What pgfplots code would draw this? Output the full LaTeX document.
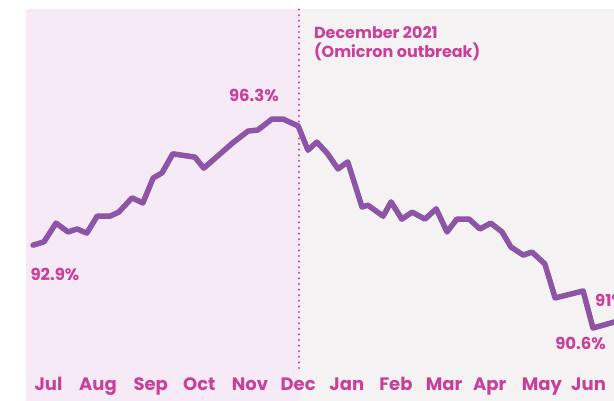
\documentclass[border=0pt]{standalone}
\usepackage{fontspec}
\setmainfont{Poppins}
\usepackage{pgfplots}
\pgfplotsset{compat=1.18}

\definecolor{pinkbg}{HTML}{F5EAF5}
\definecolor{graybg}{HTML}{F4F2F2}
\definecolor{linepurple}{HTML}{8E54A6}
\definecolor{textpink}{HTML}{C8409A}
\definecolor{dotpink}{HTML}{D6409F}

\begin{document}
\begin{tikzpicture}
\useasboundingbox (0,0) rectangle (614pt,401pt);
\begin{axis}[
    at={(26pt,0pt)}, anchor=south west,
    width=588pt, height=392pt, scale only axis,
    xmin=-0.458, xmax=11.508,
    ymin=88.61, ymax=99.30,
    axis line style={draw=none},
    axis on top,
    clip=true,
    ytick=\empty,
    xtick={0,1.007,2.08,3.07,4.10,5.08,6.07,7.07,8.05,8.98,10.04,10.99},
    xticklabels={Jul,Aug,Sep,Oct,Nov,Dec,Jan,Feb,Mar,Apr,May,Jun},
    major tick length=0pt,
    xtick style={draw=none},
    xticklabel style={anchor=base, yshift=10pt, text=textpink,
        font=\fontsize{18}{20}\selectfont\bfseries},
]
% backgrounds: before / after December 2021
\fill[pinkbg] (rel axis cs:0,0) rectangle (axis cs:5.098,99.30);
\fill[graybg] (axis cs:5.098,88.61) rectangle (rel axis cs:1,1);

% Omicron marker
\draw[dotpink, line width=2.3pt, line cap=round, dash pattern=on 0pt off 5.6pt]
    (axis cs:5.098,89.51) -- (axis cs:5.098,99.30);

% weekly share
\addplot[linepurple, line width=5.5pt, line join=round, line cap=round]
coordinates {
  (-0.315,92.86) (-0.092,92.95) (0.153,93.46) (0.397,93.22) (0.58,93.30)
  (0.78,93.19) (0.99,93.65) (1.25,93.65) (1.43,93.76) (1.70,94.15)
  (1.92,94.01) (2.13,94.69) (2.31,94.83) (2.53,95.35) (2.98,95.26)
  (3.16,94.96) (3.75,95.65) (4.06,95.97) (4.26,96.00) (4.55,96.30)
  (4.77,96.30) (5.08,96.11) (5.28,95.45) (5.46,95.67) (5.67,95.37)
  (5.89,94.94) (6.09,95.13) (6.38,93.90) (6.50,93.95) (6.81,93.65)
  (6.97,94.04) (7.19,93.57) (7.40,93.76) (7.66,93.57) (7.89,93.85)
  (8.11,93.22) (8.31,93.57) (8.56,93.57) (8.78,93.30) (9.00,93.46)
  (9.23,93.22) (9.41,92.81) (9.66,92.59) (9.84,92.67) (10.10,92.35)
  (10.31,91.42) (10.88,91.61) (11.08,90.60) (12.14,91.00)
};

\begin{scope}[text=textpink, font=\fontsize{16.5}{19}\selectfont\bfseries]
\node at (axis cs:4.18,96.93) {96.3\%};
\node at (axis cs:0.13,92.07) {92.9\%};
\node[anchor=west, inner sep=0pt] at (axis cs:10.31,90.19) {90.6\%};
\node[anchor=west, inner sep=0pt] at (axis cs:11.12,91.36) {91\%};
\node[anchor=north west, align=left, inner sep=0pt,
      font=\fontsize{16}{18.8}\selectfont\bfseries]
    at (axis cs:5.40,98.83) {December 2021\\(Omicron outbreak)};
\end{scope}
\end{axis}
\end{tikzpicture}
\end{document}
